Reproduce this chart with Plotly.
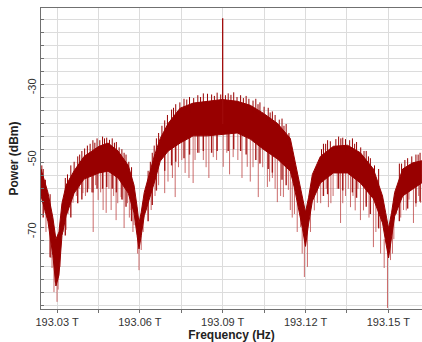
import plotly.graph_objects as go

# ---- data (THz, dBm) ----
env_freq = [193.0242, 193.0267, 193.0285, 193.0296, 193.0307, 193.0318, 193.0333, 193.0362,
            193.0398, 193.0452, 193.0485, 193.0521, 193.0558, 193.0579, 193.0590, 193.0597,
            193.0605, 193.0616, 193.0652, 193.0674, 193.0703, 193.0746, 193.0793, 193.0844,
            193.0899, 193.0953, 193.1000, 193.1047, 193.1098, 193.1145, 193.1160, 193.1174,
            193.1189, 193.1200, 193.1211, 193.1225, 193.1254, 193.1301, 193.1352, 193.1399,
            193.1446, 193.1479, 193.1490, 193.1501, 193.1512, 193.1523, 193.1552, 193.1588,
            193.1621]
env_top = [-52.5, -59.0, -66.0, -72.0, -70.0, -62.0, -57.0, -53.0,
           -49.0, -46.2, -45.3, -47.5, -51.5, -57.0, -63.0, -67.5,
           -64.5, -59.0, -49.0, -44.0, -39.8, -35.6, -34.2, -33.7,
           -33.2, -33.7, -34.8, -37.0, -39.8, -44.0, -49.5, -55.5,
           -60.5, -64.5, -60.5, -54.0, -49.0, -46.2, -45.9, -48.0,
           -52.5, -60.0, -64.5, -69.0, -64.5, -59.0, -52.5, -50.8,
           -50.2]
env_bottom = [-60.0, -67.0, -76.5, -85.0, -82.0, -71.0, -65.5, -59.2,
              -55.3, -53.6, -53.1, -55.0, -59.2, -64.7, -71.0, -74.7,
              -71.0, -65.5, -56.4, -50.3, -47.5, -45.3, -43.3, -43.3,
              -42.8, -42.5, -44.2, -47.0, -49.7, -53.1, -57.8, -62.8,
              -69.0, -74.0, -67.8, -61.4, -56.4, -53.6, -53.6, -56.4,
              -60.8, -67.5, -72.5, -77.2, -71.1, -65.6, -60.0, -58.1,
              -56.4]

spike_freq = [193.0253, 193.0278, 193.0289, 193.0300, 193.0311, 193.0333, 193.0358, 193.0394,
              193.0431, 193.0449, 193.0467, 193.0478, 193.0496, 193.0514, 193.0532, 193.0543,
              193.0568, 193.0579, 193.0597, 193.0605, 193.0641, 193.0690, 193.0728, 193.0764,
              193.0793, 193.0830, 193.0866, 193.0902, 193.0938, 193.0989, 193.1029, 193.1062,
              193.1098, 193.1120, 193.1138, 193.1145, 193.1182, 193.1196, 193.1207, 193.1243,
              193.1283, 193.1327, 193.1363, 193.1399, 193.1446, 193.1464, 193.1497, 193.1508,
              193.1555, 193.1591, 193.1617,
              193.0265, 193.0340, 193.0370, 193.0415, 193.0505, 193.0555, 193.0655, 193.0740,
              193.0815, 193.0850, 193.0955, 193.1010, 193.1080, 193.1160, 193.1265, 193.1300,
              193.1345, 193.1380, 193.1420, 193.1530, 193.1575,
              193.0248, 193.0260, 193.0282, 193.0293, 193.0304, 193.0322, 193.0347, 193.0380,
              193.0403, 193.0425, 193.0440, 193.0458, 193.0488, 193.0520, 193.0538, 193.0562,
              193.0575, 193.0592, 193.0612, 193.0625, 193.0668, 193.0702, 193.0718, 193.0752,
              193.0778, 193.0800, 193.0840, 193.0878, 193.0915, 193.0925, 193.0970, 193.1000,
              193.1045, 193.1070, 193.1090, 193.1110, 193.1152, 193.1170, 193.1188, 193.1218,
              193.1232, 193.1255, 193.1275, 193.1292, 193.1315, 193.1335, 193.1355, 193.1372,
              193.1390, 193.1410, 193.1430, 193.1455, 193.1472, 193.1485, 193.1515, 193.1520,
              193.1545, 193.1565, 193.1600, 193.1610]
spike_from = [-58, -68, -74, -80, -72, -60, -55, -52,
              -50, -49, -49, -49, -49, -50, -52, -53,
              -57, -60, -70, -67, -54, -46, -44, -42,
              -41, -40, -40, -40, -40, -41, -42, -44,
              -46, -48, -50, -52, -60, -70, -68, -55,
              -52, -51, -51, -53, -58, -60, -74, -70,
              -57, -55, -54,
              -60, -58, -54, -51, -50, -55, -50, -43,
              -40, -40, -40, -41, -45, -55, -53, -51,
              -50, -52, -55, -60, -55,
              -57, -62, -70, -75, -78, -63, -55, -52,
              -50, -50, -49, -49, -49, -51, -52, -56,
              -62, -68, -62, -57, -48, -45, -44, -42,
              -41, -40, -40, -40, -40, -40, -41, -42,
              -43, -45, -46, -48, -56, -60, -68, -62,
              -56, -54, -52, -51, -50, -50, -51, -52,
              -53, -55, -57, -60, -66, -72, -68, -65,
              -60, -56, -55, -55]
spike_to = [-64.7, -77.2, -86.7, -89.4, -79.7, -69.4, -61.9, -59.2,
            -70.0, -61.1, -63.9, -64.7, -63.9, -66.7, -60.3, -68.9,
            -63.9, -68.1, -80.6, -75.0, -63.9, -59.2, -60.3, -53.6,
            -56.4, -50.0, -49.2, -51.9, -49.2, -51.9, -60.3, -57.5,
            -61.7, -60.3, -58.3, -63.9, -68.6, -82.5, -79.7, -61.9,
            -63.1, -67.5, -63.1, -66.7, -74.2, -68.6, -91.1, -77.8,
            -63.9, -67.5, -61.9,
            -66, -65, -60, -58, -60, -62, -60, -52,
            -48, -55, -50, -52, -55, -65, -60, -60,
            -60, -64, -62, -65, -61,
            -62, -70, -80, -84, -86, -70, -62, -58,
            -60, -59, -57, -59, -58, -62, -61, -66,
            -70, -76, -70, -64, -57, -56, -55, -50,
            -55, -50, -52, -50, -48, -54, -55, -56,
            -52, -56, -58, -60, -66, -70, -76, -70,
            -64, -62, -58, -62, -58, -62, -58, -60,
            -58, -64, -66, -70, -76, -80, -76, -72,
            -66, -64, -63, -60]

bristle_freq = [193.0250, 193.0275, 193.0330, 193.0350, 193.0375, 193.0390, 193.0410, 193.0430,
                193.0445, 193.0465, 193.0480, 193.0500, 193.0515, 193.0535, 193.0550, 193.0570,
                193.0630, 193.0645, 193.0660, 193.0690, 193.0715, 193.0730, 193.0760, 193.0780,
                193.0810, 193.0830, 193.0860, 193.0880, 193.0920, 193.0940, 193.0965, 193.0985,
                193.1020, 193.1035, 193.1065, 193.1080, 193.1115, 193.1130, 193.1265, 193.1280,
                193.1320, 193.1335, 193.1370, 193.1385, 193.1420, 193.1435, 193.1465, 193.1540,
                193.1570, 193.1600, 193.1615,
                193.0245, 193.0258, 193.0338, 193.0362, 193.0382, 193.0400, 193.0420, 193.0437,
                193.0455, 193.0472, 193.0490, 193.0508, 193.0525, 193.0543, 193.0560, 193.0638,
                193.0652, 193.0668, 193.0680, 193.0700, 193.0722, 193.0745, 193.0770, 193.0795,
                193.0820, 193.0845, 193.0870, 193.0893, 193.0910, 193.0930, 193.0952, 193.0975,
                193.0995, 193.1010, 193.1028, 193.1050, 193.1072, 193.1090, 193.1105, 193.1122,
                193.1140, 193.1258, 193.1273, 193.1290, 193.1310, 193.1328, 193.1345, 193.1360,
                193.1378, 193.1400, 193.1412, 193.1428, 193.1450, 193.1548, 193.1560, 193.1585,
                193.1608]
bristle_low = [-57, -64, -59, -56, -53, -52, -50, -49,
               -48, -48, -47, -48, -49, -51, -53, -57,
               -58, -53, -48, -44, -40, -39, -37, -37,
               -36, -36, -36, -35, -35, -36, -36, -36,
               -37, -38, -40, -41, -43, -44, -50, -49,
               -48, -48, -48, -49, -52, -54, -57, -56,
               -54, -53, -52,
               -55, -59, -57, -54, -52, -50, -49, -48,
               -47, -47, -47, -48, -49, -51, -54, -55,
               -50, -46, -44, -42, -39, -37, -36, -36,
               -35, -35, -35, -35, -35, -35, -36, -36,
               -36, -37, -38, -39, -40, -41, -42, -44,
               -46, -50, -49, -48, -48, -48, -48, -48,
               -49, -50, -51, -53, -55, -55, -54, -53,
               -52]
bristle_high = [-52.5, -59.5, -55, -51.5, -49, -47.5, -46, -44.5,
                -44, -43.5, -43.8, -44, -45, -47, -48.5, -52,
                -53, -48, -44, -39, -36, -34.5, -33, -32.5,
                -32, -31.5, -31.8, -31.3, -31.5, -31.2, -32, -32.2,
                -33, -34, -35.5, -36.5, -38.5, -40, -45.5, -44.5,
                -43.5, -43.8, -44, -45, -47.5, -49.5, -52.5, -51,
                -49.5, -48.5, -48,
                -51.5, -55.5, -54, -50.5, -48.5, -46.8, -45.5, -45.2,
                -44.5, -44, -44.4, -45.2, -46.5, -48, -50.5, -50.5,
                -46, -42.5, -40.5, -37.5, -35.5, -34, -33.2, -32.8,
                -32.5, -31.6, -32.2, -31.8, -32, -31.9, -32.5, -32.8,
                -33, -33.5, -34.5, -35.2, -36.8, -37.5, -38.8, -40.5,
                -42.5, -47, -45.5, -44.8, -44.2, -44, -44.2, -44.5,
                -45.5, -46.5, -47.5, -49, -51.5, -51, -50, -49,
                -48.5]

# short dark bristles along the lower edge of the band
low_bristle_freq = bristle_freq[:51]
low_bristle_from = [-60, -70, -64, -59, -56, -54, -53, -52, -52, -51, -51, -51, -52, -54, -56, -60,
                    -60, -56, -52, -47, -45, -44, -43, -42, -41, -41, -41, -41, -41, -41, -41, -42,
                    -43, -44, -46, -47, -49, -50, -53, -53, -51, -51, -52, -53, -56, -58, -62, -60,
                    -57, -55, -54]
low_bristle_to = [-66, -77, -71, -66, -62, -61, -59, -59, -58, -58, -57.5, -58, -59, -61, -63, -67,
                  -67, -62.5, -58.5, -53, -51.5, -50.5, -49.5, -48.5, -48, -47.5, -48, -47.5,
                  -47.5, -47, -47.5, -48.5, -50, -51, -52.5, -53.5, -55.5, -57, -60, -59.5,
                  -58, -58.5, -59, -60.5, -63, -65, -69, -67, -63.5, -62, -61.5]

carrier_freq = [193.0900]
carrier_from = [-40.0]
carrier_to = [-10.6]

x_tick_vals = [193.03, 193.045, 193.06, 193.075, 193.09, 193.105, 193.12, 193.135, 193.15]
x_tick_text = ["193.03 T", "", "193.06 T", "", "193.09 T", "", "193.12 T", "", "193.15 T"]
y_tick_vals = [-30, -50, -70]
y_tick_text = ["-30", "-50", "-70"]


def segments(xs, a, b):
    sx, sy = [], []
    for x, y0, y1 in zip(xs, a, b):
        sx += [x, x, None]
        sy += [y0, y1, None]
    return sx, sy


DARK = "rgb(152,0,0)"
MID = "rgb(165,25,25)"
LIGHT = "rgba(190,70,70,0.8)"

fig = go.Figure()

# light downward spikes (drawn first, under the band)
sx, sy = segments(spike_freq, spike_from, spike_to)
fig.add_trace(go.Scatter(x=sx, y=sy, mode="lines",
                         line=dict(color=LIGHT, width=1), showlegend=False))

lx, ly = segments(low_bristle_freq, low_bristle_from, low_bristle_to)
fig.add_trace(go.Scatter(x=lx, y=ly, mode="lines",
                         line=dict(color=MID, width=1.4), showlegend=False))

# filled band of the trace
fig.add_trace(go.Scatter(
    x=env_freq + env_freq[::-1], y=env_top + env_bottom[::-1],
    mode="lines", fill="toself", fillcolor=DARK,
    line=dict(color=DARK, width=1), hoverinfo="skip", showlegend=False))

bx, by = segments(bristle_freq, bristle_low, bristle_high)
fig.add_trace(go.Scatter(x=bx, y=by, mode="lines",
                         line=dict(color=DARK, width=1), showlegend=False))

cx, cy = segments(carrier_freq, carrier_from, carrier_to)
fig.add_trace(go.Scatter(x=cx, y=cy, mode="lines",
                         line=dict(color="rgb(160,10,10)", width=1.3), showlegend=False))

FONT = "Liberation Sans, Arial, sans-serif"

fig.update_layout(
    width=422, height=342,
    margin=dict(l=41, r=0, t=8, b=33),
    paper_bgcolor="white", plot_bgcolor="white",
    font=dict(family=FONT, size=11, color="#333333"),
    xaxis=dict(
        range=[193.0242, 193.1622],
        tickmode="array", tickvals=x_tick_vals, ticktext=x_tick_text,
        showgrid=True, gridcolor="#dcdcdc", gridwidth=1,
        showline=True, linecolor="#707070", linewidth=1, mirror=True,
        ticks="outside", ticklen=3, tickcolor="#707070",
        zeroline=False,
        tickfont=dict(size=11, family=FONT, color="#333333"),
        title=dict(text="<b>Frequency (Hz)</b>", standoff=2,
                   font=dict(size=12, family=FONT, color="#222222")),
    ),
    yaxis=dict(
        range=[-91.39, -7.78],
        tickmode="array", tickvals=y_tick_vals, ticktext=y_tick_text,
        tickangle=-90,
        showgrid=False,
        showline=True, linecolor="#707070", linewidth=1, mirror=True,
        ticks="", zeroline=False,
        tickfont=dict(size=11, family=FONT, color="#333333"),
        minor=dict(tick0=-11.11, dtick=3.611, showgrid=True, gridcolor="#dcdcdc",
                   ticks="inside", ticklen=3, tickcolor="#707070"),
        title=dict(text="<b>Power (dBm)</b>", standoff=4,
                   font=dict(size=12, family=FONT, color="#222222")),
    ),
)

fig.write_html("out.html", config={"displayModeBar": False},
               post_script="document.body.style.margin='0';document.body.style.overflow='hidden';")
